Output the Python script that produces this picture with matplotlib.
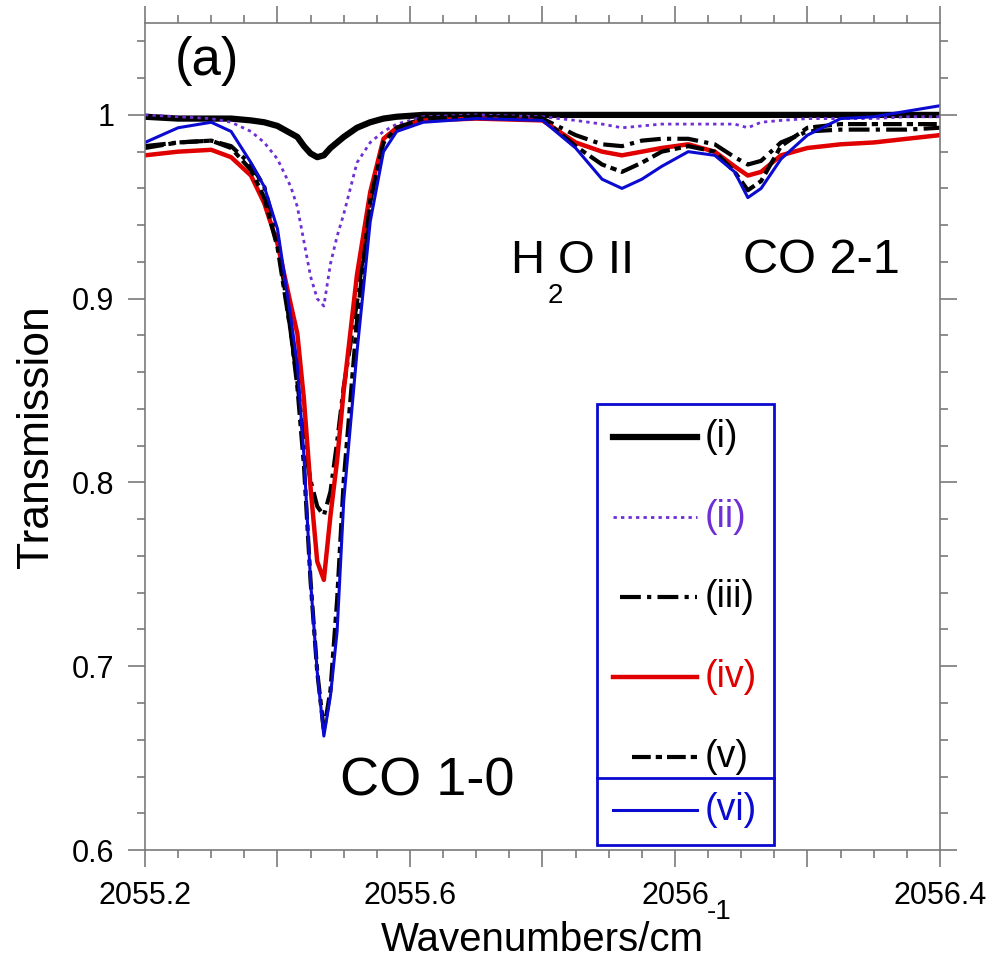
"""
CO 1-0 / H2O II / CO 2-1 吸収線の透過スペクトル (a)
横軸: 波数 (cm^-1)
縦軸: Transmission
"""

import matplotlib.pyplot as plt
from matplotlib.ticker import MultipleLocator, FuncFormatter
from matplotlib.patches import Rectangle

# 波数グリッド (cm^-1)
wn = [2055.20, 2055.25, 2055.30, 2055.33, 2055.36, 2055.38, 2055.40, 2055.42,
      2055.43, 2055.44, 2055.45, 2055.46, 2055.47, 2055.48, 2055.49, 2055.50,
      2055.52, 2055.54, 2055.56, 2055.58, 2055.62, 2055.70, 2055.80, 2055.85,
      2055.89, 2055.92, 2055.95, 2055.98, 2056.02, 2056.06, 2056.09, 2056.11,
      2056.13, 2056.16, 2056.20, 2056.25, 2056.30, 2056.35, 2056.40]

# 各条件の透過率
t_i = [0.999, 0.998, 0.998, 0.998, 0.997, 0.996, 0.994, 0.990, 0.988, 0.983,
       0.979, 0.977, 0.978, 0.982, 0.985, 0.988, 0.993, 0.996, 0.998, 0.999,
       1.000, 1.000, 1.000, 1.000, 1.000, 1.000, 1.000, 1.000, 1.000, 1.000,
       1.000, 1.000, 1.000, 1.000, 1.000, 1.000, 1.000, 1.000, 1.000]
t_ii = [1.000, 0.999, 0.998, 0.996, 0.991, 0.985, 0.976, 0.961, 0.950, 0.931,
        0.912, 0.900, 0.896, 0.919, 0.934, 0.946, 0.974, 0.985, 0.991, 0.995,
        0.999, 1.000, 0.999, 0.997, 0.995, 0.993, 0.994, 0.995, 0.995, 0.995,
        0.995, 0.993, 0.996, 0.997, 0.998, 0.998, 0.998, 0.999, 0.999]
t_iii = [0.983, 0.985, 0.986, 0.983, 0.973, 0.961, 0.934, 0.882, 0.855, 0.822,
         0.801, 0.787, 0.782, 0.795, 0.822, 0.852, 0.898, 0.953, 0.985, 0.993,
         0.998, 0.999, 0.998, 0.989, 0.984, 0.983, 0.986, 0.987, 0.987, 0.984,
         0.977, 0.973, 0.975, 0.985, 0.991, 0.992, 0.992, 0.992, 0.993]
t_iv = [0.978, 0.980, 0.981, 0.977, 0.967, 0.952, 0.930, 0.897, 0.881, 0.845,
        0.797, 0.757, 0.747, 0.782, 0.812, 0.850, 0.913, 0.958, 0.987, 0.993,
        0.997, 0.998, 0.997, 0.985, 0.980, 0.978, 0.980, 0.982, 0.984, 0.980,
        0.972, 0.967, 0.969, 0.978, 0.982, 0.984, 0.985, 0.987, 0.989]
t_v = [0.982, 0.985, 0.986, 0.982, 0.970, 0.955, 0.928, 0.882, 0.852, 0.809,
       0.746, 0.697, 0.665, 0.687, 0.736, 0.801, 0.888, 0.953, 0.985, 0.993,
       0.998, 0.999, 0.998, 0.983, 0.973, 0.969, 0.974, 0.980, 0.983, 0.980,
       0.969, 0.959, 0.964, 0.983, 0.993, 0.995, 0.995, 0.995, 0.995]
t_vi = [0.985, 0.993, 0.996, 0.991, 0.974, 0.961, 0.938, 0.890, 0.864, 0.814,
        0.746, 0.697, 0.662, 0.684, 0.719, 0.790, 0.871, 0.942, 0.980, 0.991,
        0.996, 0.998, 0.997, 0.982, 0.965, 0.960, 0.965, 0.972, 0.980, 0.978,
        0.969, 0.955, 0.960, 0.976, 0.989, 0.998, 0.999, 1.002, 1.005]

labels = ['(i)', '(ii)', '(iii)', '(iv)', '(v)', '(vi)']
series = [t_i, t_ii, t_iii, t_iv, t_v, t_vi]

PURPLE = '#6E2FD6'
RED = '#E00000'
BLUE = '#0A0AD0'
styles = [
    dict(color='black', lw=4.5, ls='-'),
    dict(color=PURPLE, lw=2.0, dashes=(1.2, 1.5)),
    dict(color='black', lw=3.0, dashes=(5, 1.5, 1, 1.5)),
    dict(color=RED, lw=3.2, ls='-'),
    dict(color='black', lw=3.0, dashes=(4.5, 1.2, 1.5, 1.2)),
    dict(color=BLUE, lw=2.2, ls='-'),
]

plt.rcParams['font.family'] = ['Liberation Sans', 'DejaVu Sans']

fig = plt.figure(figsize=(9.95, 9.71), dpi=100)
ax = fig.add_axes([0.1457, 0.1246, 0.799, 0.8517])

for y, st in zip(series, styles):
    ax.plot(wn, y, **st)

ax.set_xlim(2055.2, 2056.4)
ax.set_ylim(0.6, 1.05)

# 目盛り: 0.2 ごとに主目盛り、ラベルは 0.4 ごと
ax.xaxis.set_major_locator(MultipleLocator(0.2))
ax.xaxis.set_minor_locator(MultipleLocator(0.05))
ax.xaxis.set_major_formatter(FuncFormatter(
    lambda v, p: ('%g' % round(v, 1)) if round((v - 2055.2) / 0.2) % 2 == 0 else ''))
ax.yaxis.set_major_locator(MultipleLocator(0.1))
ax.yaxis.set_minor_locator(MultipleLocator(0.02))
ax.yaxis.set_major_formatter(FuncFormatter(lambda v, p: '%g' % round(v, 2)))

gray = '#7a7a7a'
ax.tick_params(which='both', direction='out', top=True, right=True,
               color=gray, width=1.2, labelsize=22, labelcolor='black')
ax.tick_params(which='major', length=12, pad=10)
ax.tick_params(which='minor', length=6)
for sp in ax.spines.values():
    sp.set_color(gray)
    sp.set_linewidth(1.2)

# 軸ラベル (上付きの -1 は別テキストで)
xl = ax.set_xlabel('Wavenumbers/cm', fontsize=29)
ax.xaxis.set_label_coords(0.5, -0.086)
ax.annotate('-1', xy=(1.0, 1.0), xycoords=xl, xytext=(2, -3),
            textcoords='offset points', fontsize=20, ha='left', va='bottom')
ax.set_ylabel('Transmission', fontsize=32, labelpad=11)

# 注記
ax.text(0.038, 0.937, '(a)', transform=ax.transAxes, fontsize=38, va='baseline')
ax.text(0.245, 0.066, 'CO 1-0', transform=ax.transAxes, fontsize=39, va='baseline')
ax.text(0.459, 0.698, 'H', transform=ax.transAxes, fontsize=34, va='baseline')
ax.text(0.507, 0.661, '2', transform=ax.transAxes, fontsize=20, va='baseline')
ax.text(0.519, 0.698, 'O II', transform=ax.transAxes, fontsize=34, va='baseline')
ax.text(0.752, 0.698, 'CO 2-1', transform=ax.transAxes, fontsize=35, va='baseline')

# 凡例 (手動で配置)
ax.add_patch(Rectangle((0.5686, 0.006), 0.2226, 0.5333, transform=ax.transAxes,
                       fill=False, edgecolor=BLUE, lw=2, zorder=5))
ax.plot([0.5686, 0.7912], [0.0871, 0.0871], transform=ax.transAxes,
        color=BLUE, lw=2, zorder=5)
rows = [0.4994, 0.4027, 0.3059, 0.2092, 0.1125, 0.0484]
starts = [0.5887, 0.5887, 0.5975, 0.5887, 0.6126, 0.5887]
for lab, st, yr, xs in zip(labels, styles, rows, starts):
    ax.plot([xs, 0.6943], [yr, yr], transform=ax.transAxes, zorder=6, **st)
    ax.text(0.7044, yr, lab, transform=ax.transAxes, fontsize=27,
            color=st['color'], va='center', ha='left', zorder=6)

plt.savefig('out.png', dpi=100)
